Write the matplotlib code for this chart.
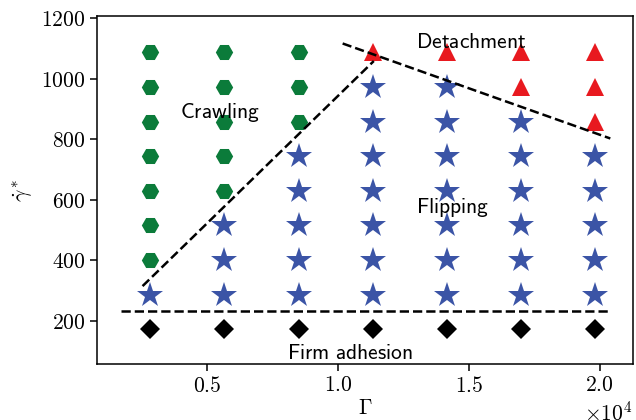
"""
Phase diagram of cell behaviour in (Gamma, shear rate) space.
"""
import numpy as np
import matplotlib
matplotlib.use("Agg")
import matplotlib.pyplot as plt

plt.rcParams["mathtext.fontset"] = "cm"
plt.rcParams["font.family"] = ["cmr10", "DejaVu Serif"]
plt.rcParams["axes.formatter.use_mathtext"] = True

# Gamma values for each column, and shear rate values for each row
gamma = [2833, 5666, 8500, 11333, 14166, 17000, 19833]
shear = [172, 287, 401, 516, 630, 745, 859, 974, 1088]

# regime per (column, row): D=firm adhesion, F=flipping, C=crawling, T=detachment
regime = [
    "DFCCCCCCC",
    "DFFFCCCCC",
    "DFFFFFCCC",
    "DFFFFFFFT",
    "DFFFFFFFT",
    "DFFFFFFTT",
    "DFFFFFTTT",
]

# boundary lines (Gamma, shear)
adhesion_x = [1700, 20380]
adhesion_y = [232, 232]
crawl_x = [2540, 11370]
crawl_y = [315, 1059]
detach_x = [10180, 20400]
detach_y = [1117, 803]

styles = {
    "D": dict(marker="D", color="black", ms=10),
    "F": dict(marker="*", color="#3b54a6", ms=19),
    "C": dict(marker="H", color="#0b7b3a", ms=12.5),
    "T": dict(marker="^", color="#e8191f", ms=13.3),
}

fig = plt.figure(figsize=(6.36, 4.20), dpi=100)
ax = fig.add_axes([0.1525, 0.133, 0.8425, 0.829])

for key, st in styles.items():
    xs, ys = [], []
    for i, col in enumerate(regime):
        for j, r in enumerate(col):
            if r == key:
                xs.append(gamma[i])
                ys.append(shear[j])
    ax.plot(xs, ys, linestyle="none", markeredgewidth=0, **st)

for bx, by in [(adhesion_x, adhesion_y), (crawl_x, crawl_y), (detach_x, detach_y)]:
    ax.plot(bx, by, "k--", lw=1.8)

fs = 15.5
ax.text(15100, 1121, r"$\mathsf{Detachment}$", ha="center", va="center", fontsize=fs)
ax.text(5490, 888, r"$\mathsf{Crawling}$", ha="center", va="center", fontsize=fs)
ax.text(14400, 575, r"$\mathsf{Flipping}$", ha="center", va="center", fontsize=fs)
ax.text(10460, 94, r"$\mathsf{Firm\ adhesion}$", ha="center", va="center", fontsize=fs)

ax.set_xlim(800, 21260)
ax.set_ylim(57, 1208)
ax.set_xticks([5000, 10000, 15000, 20000])
ax.set_yticks([200, 400, 600, 800, 1000, 1200])
ax.ticklabel_format(axis="x", style="sci", scilimits=(0, 0))
ax.xaxis.get_offset_text().set_fontsize(fs)
ax.tick_params(labelsize=fs, length=5, width=1.1)
for s in ax.spines.values():
    s.set_linewidth(1.1)

ax.set_xlabel(r"$\Gamma$", fontsize=fs, labelpad=2)
ax.set_ylabel(r"$\dot{\gamma}^*$", fontsize=fs, labelpad=4)

fig.savefig("out.png", dpi=100)
